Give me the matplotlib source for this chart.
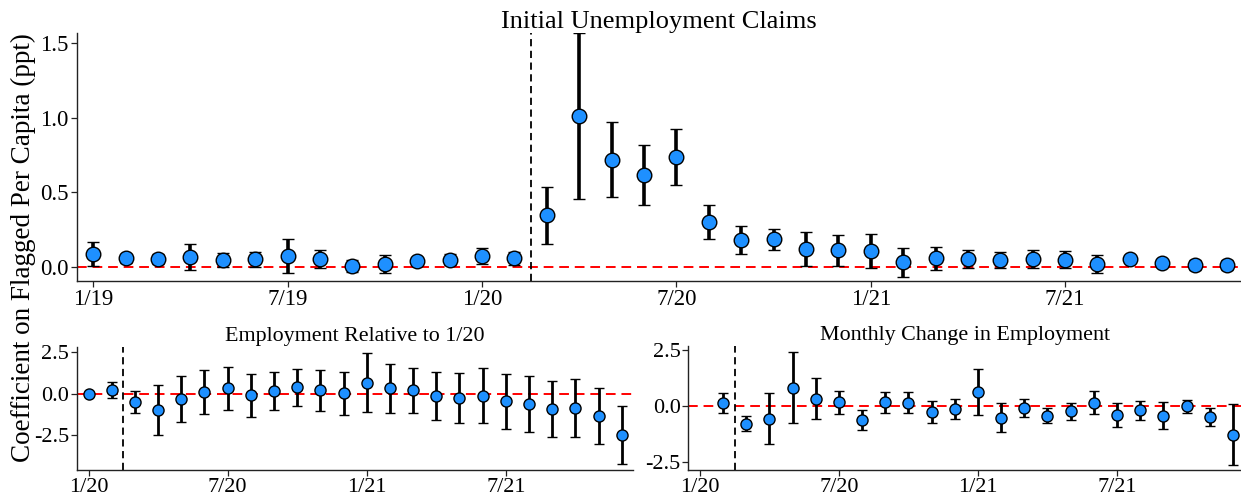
import matplotlib
matplotlib.use("Agg")
import matplotlib.pyplot as plt

plt.rcParams['font.family'] = ['Liberation Serif', 'DejaVu Serif']
plt.rcParams['axes.unicode_minus'] = False

# ---------------- data ----------------
# Top panel: monthly, 1/19 .. 12/21 (index 0 = 1/19)
top_coef = [0.087, 0.056, 0.050, 0.065, 0.045, 0.050, 0.070, 0.052, 0.003, 0.018,
            0.036, 0.047, 0.070, 0.056, 0.345, 1.013, 0.717, 0.616, 0.737, 0.300,
            0.181, 0.184, 0.119, 0.110, 0.103, 0.030, 0.056, 0.052, 0.047, 0.052,
            0.047, 0.018, 0.050, 0.025, 0.013, 0.011]
top_err = [0.080, 0.030, 0.035, 0.090, 0.045, 0.050, 0.115, 0.060, 0.040, 0.060,
           0.020, 0.038, 0.055, 0.043, 0.190, 0.556, 0.252, 0.200, 0.187, 0.113,
           0.095, 0.070, 0.113, 0.103, 0.115, 0.097, 0.076, 0.063, 0.055, 0.062,
           0.058, 0.060, 0.020, 0.020, 0.035, 0.035]
top_ticks = [0, 6, 12, 18, 24, 30]
top_ticklabels = ["1/19", "7/19", "1/20", "7/20", "1/21", "7/21"]
top_event = 13.5  # mid-Feb 2020

# Bottom-left: employment relative to 1/20, index 0 = 1/20 .. 23 = 12/21
rel_coef = [0.00, 0.22, -0.48, -1.00, -0.30, 0.08, 0.34, -0.10, 0.16, 0.38,
            0.20, 0.04, 0.67, 0.34, 0.20, -0.14, -0.28, -0.12, -0.46, -0.62,
            -0.93, -0.87, -1.33, -2.52]
rel_err = [0.00, 0.49, 0.67, 1.52, 1.40, 1.33, 1.30, 1.29, 1.14, 1.10,
           1.23, 1.30, 1.79, 1.48, 1.34, 1.45, 1.52, 1.65, 1.66, 1.70,
           1.70, 1.77, 1.69, 1.76]

# Bottom-right: monthly change, index 1 = 2/20 .. 23 = 12/21
chg_x = list(range(1, 24))
chg_coef = [0.15, -0.78, -0.55, 0.84, 0.34, 0.18, -0.63, 0.19, 0.16, -0.27,
            -0.12, 0.63, -0.51, -0.07, -0.42, -0.22, 0.16, -0.39, -0.19, -0.42,
            -0.01, -0.48, -1.27]
chg_err = [0.44, 0.34, 1.13, 1.57, 0.92, 0.52, 0.45, 0.47, 0.46, 0.50,
           0.43, 1.02, 0.64, 0.40, 0.35, 0.38, 0.52, 0.54, 0.43, 0.60,
           0.30, 0.39, 1.38]
bot_ticks = [0, 6, 12, 18]
bot_ticklabels = ["1/20", "7/20", "1/21", "7/21"]
bot_event = 1.5

BLUE = '#1E90FF'

W, H = 1241, 497
fig = plt.figure(figsize=(W / 100, H / 100), dpi=100)

def px_axes(l, t, r, b):
    return fig.add_axes([l / W, 1 - b / H, (r - l) / W, (b - t) / H])

ax_top = px_axes(77, 33, 1241, 281)
ax_bl = px_axes(77, 346.7, 633.3, 470.3)
ax_br = px_axes(688.3, 346.0, 1241, 470.3)

def style(ax, fs=15, pad=2):
    for s in ['top', 'right']:
        ax.spines[s].set_visible(False)
    for s in ['left', 'bottom']:
        ax.spines[s].set_color('#222222')
        ax.spines[s].set_linewidth(1.0)
    ax.tick_params(axis='both', labelsize=fs, length=4, width=0.9, color='#222222', pad=pad)

# Top panel
ax = ax_top
ax.axhline(0, color='red', ls=(0, (5, 3)), lw=1.4, zorder=1)
ax.axvline(top_event, color='black', ls=(0, (4, 2.5)), lw=1.3, zorder=1)
ax.errorbar(range(len(top_coef)), top_coef, yerr=top_err, fmt='o', color='black',
            ecolor='black', elinewidth=2.6, capsize=4.5, capthick=1.8,
            markersize=10.5, markerfacecolor=BLUE, markeredgecolor='black',
            markeredgewidth=1.0, zorder=3)
ax.set_xlim(-0.5, 35.43)
ax.set_ylim(-0.096, 1.57)
ax.set_yticks([0.0, 0.5, 1.0, 1.5])
ax.set_yticklabels(["0.0", "0.5", "1.0", "1.5"])
ax.set_xticks(top_ticks)
ax.set_xticklabels(top_ticklabels)
style(ax, 16.5)
ax.set_title("Initial Unemployment Claims", fontsize=19, pad=3)

# Bottom left
ax = ax_bl
ax.axhline(0, color='red', ls=(0, (5, 3)), lw=1.4, zorder=1)
ax.axvline(bot_event, color='black', ls=(0, (4, 2.5)), lw=1.3, zorder=1)
ax.errorbar(range(len(rel_coef)), rel_coef, yerr=rel_err, fmt='o', color='black',
            ecolor='black', elinewidth=2.0, capsize=3.5, capthick=1.5,
            markersize=8, markerfacecolor=BLUE, markeredgecolor='black',
            markeredgewidth=1.0, zorder=3)
ax.set_xlim(-0.5, 23.5)
ax.set_ylim(-4.64, 2.85)
ax.set_yticks([-2.5, 0.0, 2.5])
ax.set_yticklabels(["-2.5", "0.0", "2.5"])
ax.set_xticks(bot_ticks)
ax.set_xticklabels(bot_ticklabels)
style(ax, 16, pad=1.5)
ax.set_title("Employment Relative to 1/20", fontsize=15.8, pad=4)

# Bottom right
ax = ax_br
ax.axhline(0, color='red', ls=(0, (5, 3)), lw=1.4, zorder=1)
ax.axvline(bot_event, color='black', ls=(0, (4, 2.5)), lw=1.3, zorder=1)
ax.errorbar(chg_x, chg_coef, yerr=chg_err, fmt='o', color='black',
            ecolor='black', elinewidth=2.0, capsize=3.5, capthick=1.5,
            markersize=8, markerfacecolor=BLUE, markeredgecolor='black',
            markeredgewidth=1.0, zorder=3)
ax.set_xlim(-0.5, 23.35)
ax.set_ylim(-2.87, 2.70)
ax.set_yticks([-2.5, 0.0, 2.5])
ax.set_yticklabels(["-2.5", "0.0", "2.5"])
ax.set_xticks(bot_ticks)
ax.set_xticklabels(bot_ticklabels)
style(ax, 16, pad=1.5)
ax.set_title("Monthly Change in Employment", fontsize=15.8, pad=4)

fig.text(23 / W, 1 - 248 / H, "Coefficient on Flagged Per Capita (ppt)",
         rotation=90, ha='center', va='center', fontsize=19.5)

fig.savefig("out.png", dpi=100)
